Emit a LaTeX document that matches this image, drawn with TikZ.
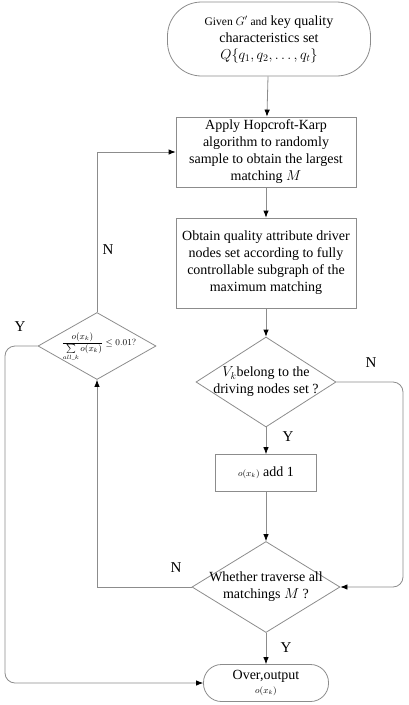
\documentclass[tikz,border=0pt]{standalone}
\usepackage{amsmath}
\usepackage{fontspec}
\setmainfont{Liberation Serif}
\usetikzlibrary{shapes.geometric,arrows.meta}

\begin{document}
\begin{tikzpicture}[x=1pt,y=-1pt,
  line/.style={draw=black!45,line width=0.8pt},
  arr/.style={line,->,>={Latex[length=7pt,width=5.5pt,color=black]}},
  txt/.style={align=center,font=\fontsize{14}{17}\selectfont,inner sep=0pt},
  box/.style={line,rectangle,txt},
  term/.style={box,rounded corners=18pt},
  decision/.style={line,diamond,inner sep=0pt},
  yn/.style={font=\fontsize{15}{15}\selectfont}]
\useasboundingbox (0,0) rectangle (408,705);
% blocks
\node[term,rounded corners=34pt,minimum width=203pt,minimum height=74pt] (start)at(269,39)
  {{\fontsize{11.5}{17}\selectfont Given $G'$ and} key quality\\characteristics set\\$Q\{q_1,q_2,\dots,q_t\}$};
\node[box,minimum width=180pt,minimum height=70pt] (hk)at(266,152)
  {Apply Hopcroft-Karp\\algorithm to randomly\\sample to obtain the largest\\matching $M$};
\node[box,minimum width=180pt,minimum height=90pt] (drv)at(266,263)
  {Obtain quality attribute driver\\nodes set according to fully\\controllable subgraph of the\\maximum matching};
\node[decision,minimum width=140pt,minimum height=90pt] (belong)at(266,382) {};
\node[txt] (belongtxt)at(belong) {$V_k$belong to the\\driving nodes set ?};
\node[box,minimum width=101pt,minimum height=37pt] (add)at(266,473)
  {{\small $o(x_k)$} add 1};
\node[decision,minimum width=148pt,minimum height=91pt] (all)at(266,587) {};
\node[txt] (alltxt)at(all) {Whether traverse all\\matchings $M$ ?};
\node[decision,minimum width=118pt,minimum height=67pt] (ratio)at(97,346) {};
\node[font=\fontsize{9}{10}\selectfont,inner sep=0pt] (ratiotxt)at(99,347)
  {$\dfrac{o(x_k)}{\sum\limits_{all\_k} o(x_k)}\le 0.01?$};
\node[term,minimum width=125pt,minimum height=37pt] (over)at(266,683)
  {Over,output\\[-3pt]{\small $o(x_k)$}};
% corners
\coordinate (c1) at(403,382);
\coordinate (c2) at(403,587);
\coordinate (c3) at(97,587);
\coordinate (c4) at(97,152);
\coordinate (c5) at(5,346);
\coordinate (c6) at(5,683);
% connectors
\draw[arr] (start) -- (hk);
\draw[arr] (hk) -- (drv);
\draw[arr] (drv) -- (belong);
\draw[arr] (belong) -- (add);
\draw[arr] (add) -- (all);
\draw[arr] (all) -- (over);
\draw[arr,rounded corners=10pt] (belong.east) -- (c1) -- (c2) -- (all.east);
\draw[arr] (all.west) -- (c3) -- (ratio.south);
\draw[arr] (ratio.north) -- (c4) -- (hk.west);
\draw[arr,rounded corners=10pt] (ratio.west) -- (c5) -- (c6) -- (over.west);
% labels
\node[yn] (y1)at(288,437) {Y};
\node[yn] (n1)at(371,363) {N};
\node[yn] (y2)at(286,648) {Y};
\node[yn] (n2)at(176,568) {N};
\node[yn] (n3)at(108,250) {N};
\node[yn] (y3)at(20,327) {Y};
\end{tikzpicture}
\end{document}
